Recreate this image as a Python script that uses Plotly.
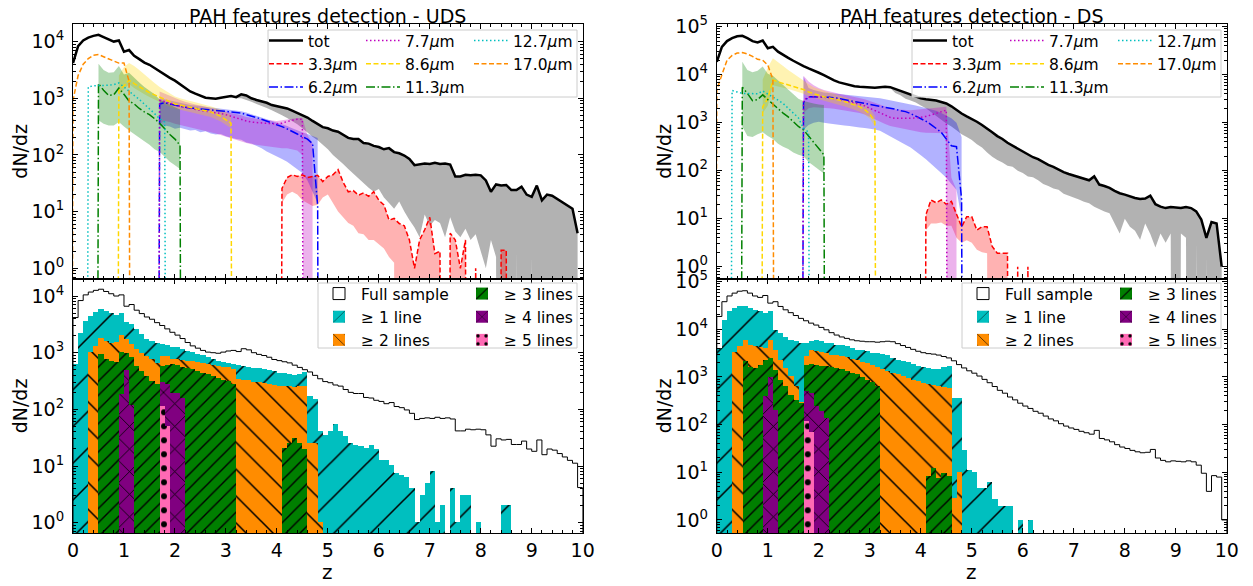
import plotly.graph_objects as go

# the page body keeps its default 8px margin, so the figure sits 8px in;
# positions below are given in page pixels and shifted by that margin
OFF = 8
W, H = 1253 - OFF, 586 - OFF
FONT = 'DejaVu Sans'
FLOOR = 1e-30   # empty bins: drawn far below the log axis so curves drop like matplotlib

# left edges of the dz = 0.1 bins
z_left = [round(0.1 * i, 1) for i in range(100)]

# all values below are log10(dN/dz), None = empty bin

# ---------------- UDS ----------------
uds_tot = [
    3.62, 3.92, 4.02, 4.07, 4.10, 4.12, 4.08, 4.04, 4.00, 4.02,
    3.82, 3.85, 3.75, 3.69, 3.63, 3.59, 3.53, 3.48, 3.42, 3.36,
    3.31, 3.25, 3.18, 3.12, 3.08, 3.04, 3.01, 3.00, 2.99, 3.01,
    3.03, 3.04, 3.02, 3.07, 3.05, 3.00, 2.97, 2.95, 2.92, 2.88,
    2.86, 2.84, 2.82, 2.78, 2.74, 2.70, 2.66, 2.60, 2.54, 2.49,
    2.47, 2.43, 2.41, 2.35, 2.30, 2.28, 2.28, 2.21, 2.20, 2.16,
    2.14, 2.10, 2.12, 2.05, 2.03, 1.99, 1.93, 1.82, 1.84, 1.85,
    1.84, 1.86, 1.84, 1.85, 1.83, 1.62, 1.62, 1.65, 1.64, 1.65,
    1.64, 1.55, 1.35, 1.48, 1.46, 1.47, 1.38, 1.38, 1.44, 1.30,
    1.26, 1.46, 1.20, 1.30, 1.28, 1.22, 1.16, 1.10, 1.05, 0.62,
]
uds_tot_lo_start = 3.2
uds_tot_lo = [
    3.00, 3.00, 2.97, 2.94, 2.90, 2.86, 2.83, 2.79,
    2.75, 2.70, 2.65, 2.60, 2.54, 2.47, 2.40, 2.32, 2.26, 2.18,
    2.10, 2.00, 1.92, 1.84, 1.75, 1.67, 1.58, 1.50, 1.42, 1.35,
    1.40, 1.25, 1.15, 1.05, 1.18, 1.00, 0.85, 0.72, 0.55, 0.95,
    0.75, 0.85, 0.80, 0.55, 0.90, 0.65, 0.55, 0.70, 0.50, 0.60,
    0.30, 0.00, 0.50, 0.20, None, 0.10, None, 0.30, None, None,
    0.20, None, None, None, None, None, None, None, None, None,
]

uds_33_start = 4.1
uds_33 = [
    1.41, 1.60, 1.65, 1.62, 1.65, 1.60, 1.62, 1.64, 1.53,
    1.62, 1.65, 1.74, 1.52, 1.35, 1.37, 1.29, 1.33, 1.27, 1.35,
    1.20, 1.12, 0.85, 0.88, 0.79, 0.75, 0.50, 0.00, 0.50, 0.68,
    0.90, 0.26, 0.30, None, 0.62, 0.50, 0.00, 0.50, None, 0.00,
    None, None, None, None, 0.32, 0.32,
]
uds_33_lo = [
    1.15, 1.30, 1.35, 1.30, 1.20, 1.15, 1.10, 1.12, 1.25,
    1.30, 1.15, 1.00, 0.90, 0.80, 0.75, 0.62, 0.60, 0.50, 0.50,
    0.42, 0.35, 0.20, 0.10, None, None, None, None, None, None,
    None, None, None, None, None, None, None, None, None, None,
    None, None, None, None, None, None,
]

uds_62_start = 1.7
uds_62 = [
    2.90, 2.92, 2.90,
    2.87, 2.85, 2.84, 2.83, 2.82, 2.81, 2.80, 2.79, 2.78, 2.78,
    2.77, 2.76, 2.75, 2.74, 2.71, 2.69, 2.66, 2.63, 2.60, 2.57,
    2.54, 2.50, 2.46, 2.42, 2.37, 2.32, 2.28, 2.20, 1.10,
]
uds_62_hi = [
    3.00, 2.98, 2.96,
    2.93, 2.91, 2.90, 2.88, 2.87, 2.86, 2.85, 2.84, 2.83, 2.82,
    2.81, 2.80, 2.79, 2.77, 2.75, 2.72, 2.70, 2.67, 2.64, 2.61,
    2.58, 2.55, 2.51, 2.47, 2.43, 2.40, 2.37, 2.33, 2.30,
]
uds_62_lo = [
    2.50, 2.52, 2.50,
    2.46, 2.48, 2.45, 2.43, 2.44, 2.40, 2.42, 2.38, 2.36, 2.37,
    2.33, 2.30, 2.28, 2.27, 2.22, 2.20, 2.16, 2.12, 2.06, 2.02,
    1.97, 1.93, 1.88, 1.82, 1.75, 1.68, 1.55, 1.35, 1.15,
]

uds_77_start = 1.7
uds_77 = [
    2.96, 2.94, 2.91,
    2.88, 2.86, 2.84, 2.82, 2.80, 2.79, 2.77, 2.76, 2.75, 2.73,
    2.71, 2.68, 2.66, 2.63, 2.60, 2.58, 2.57, 2.57, 2.56, 2.55,
    2.55, 2.56, 2.59, 2.61, 2.63, 2.63,
]
uds_77_hi = [
    3.12, 3.08, 3.04,
    3.00, 2.97, 2.94, 2.91, 2.89, 2.87, 2.85, 2.83, 2.81, 2.79,
    2.77, 2.74, 2.72, 2.70, 2.67, 2.65, 2.64, 2.63, 2.62, 2.61,
    2.60, 2.61, 2.63, 2.64, 2.65, 2.65, 2.35, 2.20,
]
uds_77_lo = [
    2.55, 2.60, 2.58,
    2.55, 2.52, 2.50, 2.48, 2.46, 2.44, 2.42, 2.40, 2.38, 2.36,
    2.33, 2.30, 2.27, 2.24, 2.21, 2.19, 2.17, 2.16, 2.15, 2.14,
    2.13, 2.12, 2.12, 2.10, 2.08, 2.00, None, None,
]

uds_86_start = 0.9
uds_86 = [3.14, 3.22, 3.32, 3.26, 3.20, 3.15, 3.10, 3.06, 3.01, 2.98, 2.94, 2.90,
          2.88, 2.86, 2.84, 2.82, 2.80, 2.78, 2.76, 2.72, 2.68, 2.62, 2.56]
uds_86_hi = [3.40, 3.55, 3.62, 3.57, 3.50, 3.42, 3.35, 3.27, 3.20, 3.14, 3.08, 3.03,
             3.00, 2.97, 2.95, 2.93, 2.90, 2.88, 2.86, 2.83, 2.80, 2.75, 2.70]
uds_86_lo = [3.05, 3.15, 3.25, 3.18, 3.12, 3.07, 3.02, 2.98, 2.93, 2.89, 2.85, 2.82,
             2.80, 2.78, 2.76, 2.73, 2.71, 2.69, 2.67, 2.63, 2.59, 2.53, 2.47]

uds_113_start = 0.5
uds_113 = [3.26, 3.14, 3.05, 3.06, 3.18, 3.07, 2.95, 2.90, 2.82, 2.76, 2.71, 2.64,
           2.56, 2.46, 2.36, 2.28, 2.17]
uds_113_hi = [3.61, 3.50, 3.45, 3.46, 3.57, 3.42, 3.45, 3.36, 3.28, 3.20, 3.14, 3.07,
              2.98, 2.93, 2.88, 2.84, 2.80]
uds_113_lo = [2.61, 2.55, 2.52, 2.52, 2.58, 2.50, 2.43, 2.36, 2.30, 2.24, 2.18, 2.10,
              2.05, 1.97, 1.88, 1.82, 1.75]

uds_127_start = 0.3
uds_127 = [3.20, 3.22, 3.22, 3.22, 3.23, 3.24, 3.27, 3.20, 3.12, 3.05, 2.98, 2.90,
           2.81, 2.73, 2.64, 2.58]

uds_170_start = 0.0
uds_170 = [2.96, 3.40, 3.60, 3.70, 3.76, 3.77, 3.73, 3.69, 3.66, 3.62, 3.62, 3.30]

# histograms (number of detected lines)
uds_ge1_start = 0.0
uds_ge1 = [
    2.79, 3.35, 3.56, 3.65, 3.72, 3.76, 3.73, 3.70, 3.66, 3.70,
    3.53, 3.50, 3.41, 3.32, 3.23, 3.20, 3.16, 3.14, 3.13, 3.09,
    3.09, 3.06, 3.03, 3.00, 2.97, 2.95, 2.91, 2.88, 2.85, 2.83,
    2.81, 2.79, 2.77, 2.76, 2.75, 2.73, 2.72, 2.70, 2.69, 2.67,
    2.64, 2.63, 2.61, 2.60, 2.61, 2.65, 2.23, 2.17, 1.61, 1.55,
    1.61, 1.73, 1.61, 1.52, 1.40, 1.37, 1.35, 1.32, 1.37, 1.29,
    1.11, 1.11, 1.02, 0.87, 0.84, 0.81, 0.61, 0.00, 0.49, 0.70,
    0.90, 0.00, 0.30, None, 0.60, 0.00, 0.49, 0.49, None, 0.00,
    None, None, None, None, 0.30, 0.30,
]
uds_ge2_start = 0.3
uds_ge2 = [
    3.00, 3.11, 3.26, 3.20, 3.17, 3.18, 3.30,
    3.23, 3.14, 3.06, 2.99, 2.94, 2.88, 2.82, 2.94, 2.93, 2.89,
    2.88, 2.87, 2.85, 2.84, 2.83, 2.82, 2.79, 2.78, 2.76, 2.75,
    2.74, 2.71, 2.53, 2.52, 2.51, 2.48, 2.47, 2.46, 2.44, 2.42,
    2.41, 2.40, 2.40, 2.39, 2.40, 2.40, 1.40, 1.40, 0.00,
]
uds_ge3_start = 0.5
uds_ge3 = [
    2.97, 2.88, 2.85, 2.83, 3.01,
    2.99, 2.91, 2.76, 2.67, 2.58, 2.50, 2.44, 2.76, 2.77, 2.79,
    2.77, 2.75, 2.73, 2.71, 2.67, 2.64, 2.61, 2.58, 2.55, 2.52,
    2.49, 2.44, None, None, None, None, None, None, None, None,
    None, 1.32, 1.40, 1.49, 1.40, 1.29,
]
uds_ge4_start = 0.9
uds_ge4 = [2.26, 2.69, 2.08, None, None, None, None, None, 2.47, 2.44, 2.29, 2.29, 2.20]
uds_ge5_start = 1.7
uds_ge5 = [2.05, 1.70]

# ---------------- DS ----------------
ds_tot = [
    4.27, 4.58, 4.70, 4.76, 4.80, 4.81, 4.76, 4.70, 4.67, 4.71,
    4.55, 4.58, 4.48, 4.41, 4.35, 4.29, 4.23, 4.18, 4.13, 4.09,
    4.04, 3.99, 3.93, 3.88, 3.84, 3.81, 3.78, 3.76, 3.75, 3.74,
    3.74, 3.73, 3.74, 3.75, 3.74, 3.70, 3.66, 3.62, 3.58, 3.54,
    3.51, 3.49, 3.48, 3.46, 3.43, 3.40, 3.34, 3.26, 3.19, 3.13,
    3.08, 3.02, 2.95, 2.88, 2.80, 2.72, 2.66, 2.58, 2.52, 2.45,
    2.39, 2.34, 2.28, 2.24, 2.18, 2.12, 2.08, 2.02, 1.97, 1.93,
    1.90, 1.86, 1.83, 1.80, 1.88, 1.71, 1.68, 1.64, 1.58, 1.53,
    1.50, 1.46, 1.43, 1.41, 1.42, 1.48, 1.30, 1.25, 1.22, 1.24,
    1.23, 1.22, 1.24, 1.22, 1.15, 0.98, 0.60, 0.93, 0.90, 0.00,
]
ds_tot_lo_start = 3.4
ds_tot_lo = [
    3.72, 3.62, 3.57, 3.50, 3.46, 3.42,
    3.36, 3.30, 3.22, 3.15, 3.06, 2.98, 2.92, 2.84, 2.76, 2.70,
    2.64, 2.55, 2.48, 2.38, 2.29, 2.22, 2.17, 2.10, 2.08, 2.00,
    1.95, 1.88, 1.86, 1.80, 1.72, 1.68, 1.63, 1.60, 1.52, 1.49,
    1.44, 1.40, 1.35, 1.32, 1.25, 1.20, 1.15, 1.11, 0.90, 0.69,
    1.00, 0.83, 0.75, 0.56, 0.90, 0.68, 0.40, 0.69, 0.50, 0.69,
    None, 0.69, 0.60, None, 0.50, None, 0.20, None, None, None,
]

ds_33_start = 4.1
ds_33 = [1.08, 1.39, 1.33, 1.39, 1.30, 1.36, 1.11, 0.83, 1.04,
         1.04, 0.76, 0.83, 0.83, 0.42, 0.28, 0.28, 0.28, None, 0.00,
         None, 0.00]
ds_33_lo = [0.76, 0.90, 0.90, 0.92, 0.85, 0.85, 0.60, 0.50, 0.55,
            0.50, 0.35, 0.30, 0.28, None, None, None, None, None, None,
            None, None]

ds_62_start = 1.7
ds_62 = [
    3.42, 3.54, 3.54,
    3.54, 3.54, 3.53, 3.52, 3.50, 3.48, 3.47, 3.45, 3.43, 3.41,
    3.39, 3.37, 3.35, 3.33, 3.30, 3.28, 3.25, 3.23, 3.19, 3.14,
    3.09, 3.03, 2.96, 2.88, 2.80, 2.66, 2.52, 2.50, 1.40,
]
ds_62_hi = [
    3.96, 3.72, 3.68,
    3.65, 3.63, 3.62, 3.61, 3.60, 3.59, 3.58, 3.57, 3.56, 3.55,
    3.54, 3.53, 3.51, 3.49, 3.47, 3.45, 3.43, 3.41, 3.38, 3.36,
    3.33, 3.30, 3.27, 3.25, 3.20, 3.15, 3.09, 3.00, 2.70,
]
ds_62_lo = [
    2.85, 2.95, 3.00,
    3.02, 3.00, 2.98, 2.96, 2.95, 2.94, 2.93, 2.92, 2.90, 2.89,
    2.88, 2.86, 2.83, 2.78, 2.72, 2.66, 2.60, 2.54, 2.48, 2.40,
    2.32, 2.24, 2.15, 2.05, 1.95, 1.85, 1.72, 1.60, 1.00,
]

ds_77_start = 1.7
ds_77 = [
    3.47, 3.53, 3.54,
    3.54, 3.53, 3.52, 3.50, 3.48, 3.46, 3.43, 3.41, 3.38, 3.35,
    3.30, 3.25, 3.20, 3.15, 3.11, 3.09, 3.09, 3.08, 3.09, 3.10,
    3.11, 3.13, 3.16, 3.19, 3.22, 3.26,
]
ds_77_hi = [
    3.98, 3.86, 3.78,
    3.72, 3.68, 3.65, 3.62, 3.60, 3.58, 3.56, 3.54, 3.52, 3.49,
    3.45, 3.41, 3.37, 3.33, 3.30, 3.28, 3.27, 3.26, 3.26, 3.27,
    3.28, 3.29, 3.30, 3.31, 3.32, 3.33, 1.85, 1.60,
]
ds_77_lo = [
    3.20, 3.30, 3.32,
    3.32, 3.31, 3.30, 3.29, 3.28, 3.26, 3.24, 3.22, 3.20, 3.17,
    3.13, 3.07, 3.02, 2.97, 2.93, 2.90, 2.88, 2.86, 2.84, 2.82,
    2.80, 2.79, 2.78, 2.78, 2.78, 2.78, None, None,
]

ds_86_start = 0.9
ds_86 = [3.33, 3.50, 3.89, 3.85, 3.82, 3.79, 3.76, 3.73, 3.69, 3.64, 3.60, 3.57,
         3.54, 3.52, 3.50, 3.47, 3.44, 3.41, 3.37, 3.33, 3.27, 3.18, 3.02]
ds_86_hi = [3.90, 4.15, 4.34, 4.25, 4.18, 4.10, 4.03, 3.96, 3.88, 3.80, 3.74, 3.70,
            3.66, 3.63, 3.60, 3.57, 3.54, 3.50, 3.46, 3.42, 3.37, 3.29, 3.14]
ds_86_lo = [3.20, 3.35, 3.78, 3.76, 3.73, 3.70, 3.67, 3.64, 3.60, 3.55, 3.51, 3.48,
            3.45, 3.43, 3.40, 3.37, 3.34, 3.31, 3.27, 3.23, 3.17, 3.08, 2.92]

ds_113_start = 0.5
ds_113 = [3.74, 3.61, 3.46, 3.48, 3.58, 3.48, 3.38, 3.30, 3.20, 3.12, 3.02, 2.92,
          2.85, 2.72, 2.60, 2.46, 2.33]
ds_113_hi = [4.27, 4.10, 4.05, 4.08, 4.17, 4.02, 3.98, 3.88, 3.78, 3.68, 3.58, 3.50,
             3.45, 3.42, 3.40, 3.38, 3.37]
ds_113_lo = [2.92, 2.72, 2.70, 2.76, 2.80, 2.72, 2.66, 2.56, 2.50, 2.45, 2.38, 2.33,
             2.30, 2.18, 2.10, 2.02, 1.94]

ds_127_start = 0.3
ds_127 = [3.67, 3.64, 3.61, 3.61, 3.60, 3.60, 3.66, 3.60, 3.54, 3.47, 3.40, 3.30,
          3.22, 3.10, 2.88, 2.80]

ds_170_start = 0.0
ds_170 = [3.68, 4.00, 4.30, 4.40, 4.45, 4.46, 4.43, 4.38, 4.32, 4.30, 4.20, 3.90]

ds_ge1_start = 0.0
ds_ge1 = [
    3.60, 4.20, 4.37, 4.44, 4.49, 4.48, 4.45, 4.41, 4.37, 4.34,
    4.37, 3.99, 3.92, 3.83, 3.78, 3.74, 3.71, 3.71, 3.74, 3.76,
    3.74, 3.71, 3.70, 3.67, 3.66, 3.64, 3.61, 3.57, 3.56, 3.54,
    3.50, 3.49, 3.47, 3.45, 3.39, 3.36, 3.32, 3.30, 3.27, 3.23,
    3.20, 3.18, 3.16, 3.16, 3.20, 3.23, 2.55, 2.55, 1.47, 1.05,
    1.01, 0.66, 0.66, 0.80, 0.43, 0.28, 0.28, 0.28, None, 0.00,
    None, 0.00,
]
ds_ge2_start = 0.3
ds_ge2 = [
    3.51, 3.64, 3.78, 3.67, 3.65, 3.63, 3.60,
    3.78, 3.57, 3.36, 3.18, 3.01, 2.80, 2.46, 3.43, 3.55, 3.54,
    3.52, 3.50, 3.46, 3.45, 3.43, 3.41, 3.37, 3.34, 3.31, 3.28,
    3.24, 3.20, 3.16, 3.13, 3.08, 3.05, 3.01, 2.98, 2.94, 2.90,
    2.87, 2.84, 2.82, 2.80, 2.79, 2.76, 0.45, 1.00,
]
ds_ge3_start = 0.5
ds_ge3 = [
    3.32, 3.20, 3.18, 3.25, 3.36,
    3.39, 3.15, 2.94, 2.80, 2.62, 2.52, 2.45, 3.25, 3.27, 3.25,
    3.23, 3.22, 3.21, 3.19, 3.17, 3.13, 3.08, 3.05, 3.00, 2.94,
    2.89, 2.81, None, None, None, None, None, None, None, None,
    None, 0.91, 1.08, 0.87, 0.98, 0.91,
]
ds_ge4_start = 0.9
ds_ge4 = [2.59, 3.00, 2.31, None, None, None, None, None, 2.69, 2.66, 2.38, 2.27, 2.13]
ds_ge5_start = 1.7
ds_ge5 = [2.06, 1.85]


def lin(vals):
    return [FLOOR if v is None else 10 ** v for v in vals]


def grid(start, n):
    return [round(start + 0.1 * i, 1) for i in range(n)]


def fx(px):
    return (px - OFF) / W


def fy(py):
    return 1 - (py - OFF) / H


fig = go.Figure()


def add_band(xa, ya, start, lo, hi, color):
    x = grid(start, len(lo))
    fig.add_trace(go.Scatter(x=x + x[::-1], y=lin(hi) + lin(lo)[::-1], mode='lines',
                             fill='toself', fillcolor=color, line=dict(width=0),
                             hoverinfo='skip', showlegend=False, xaxis=xa, yaxis=ya))


def add_line(xa, ya, start, vals, name, color, dash, legend, pad=True, width=1.5):
    if pad:
        x = grid(round(start - 0.1, 1), len(vals) + 2)
        y = [FLOOR] + lin(vals) + [FLOOR]
    else:
        x = grid(start, len(vals))
        y = lin(vals)
    fig.add_trace(go.Scatter(x=x, y=y, mode='lines', name=name,
                             line=dict(color=color, width=width, dash=dash),
                             legend=legend, xaxis=xa, yaxis=ya))


def add_hist(xa, ya, start, vals, name, color, shape, size, solidity, legend):
    x = [round(start + 0.1 * i + 0.05, 2) for i in range(len(vals))]
    y = [None if v is None else 10 ** v for v in vals]
    fig.add_trace(go.Bar(x=x, y=y, width=0.1, name=name, legend=legend, xaxis=xa, yaxis=ya,
                         marker=dict(color=color, line=dict(width=0),
                                     pattern=dict(shape=shape, size=size, solidity=solidity,
                                                  fgcolor='black', fgopacity=1,
                                                  fillmode='overlay'))))


def add_step(xa, ya, vals, legend):
    x = [0.0] + z_left + [10.0]
    y = [FLOOR] + lin(vals) + [FLOOR]
    fig.add_trace(go.Scatter(x=x, y=y, mode='lines', line=dict(color='black', width=1, shape='hv'),
                             showlegend=False, xaxis=xa, yaxis=ya))
    fig.add_trace(go.Bar(x=[None], y=[None], name='Full sample', legend=legend,
                         marker=dict(color='white', line=dict(color='black', width=1)),
                         xaxis=xa, yaxis=ya))


DASHED = '5px,2.5px'
DOTTED = '1.5px,2.5px'
DASHDOT = '9px,2.5px,1.5px,2.5px'
MU = '<i>μ</i>m'

panels = [
    ('x', 'y', 'x2', 'y2', ['legend', 'legend2', 'legend3', 'legend4', 'legend5'],
     uds_tot, uds_tot_lo_start, uds_tot_lo,
     (uds_33_start, uds_33, uds_33_lo), (uds_62_start, uds_62, uds_62_lo, uds_62_hi),
     (uds_77_start, uds_77, uds_77_lo, uds_77_hi), (uds_86_start, uds_86, uds_86_lo, uds_86_hi),
     (uds_113_start, uds_113, uds_113_lo, uds_113_hi), (uds_127_start, uds_127),
     (uds_170_start, uds_170),
     [(uds_ge1_start, uds_ge1), (uds_ge2_start, uds_ge2), (uds_ge3_start, uds_ge3),
      (uds_ge4_start, uds_ge4), (uds_ge5_start, uds_ge5)]),
    ('x3', 'y3', 'x4', 'y4', ['legend6', 'legend7', 'legend8', 'legend9', 'legend10'],
     ds_tot, ds_tot_lo_start, ds_tot_lo,
     (ds_33_start, ds_33, ds_33_lo), (ds_62_start, ds_62, ds_62_lo, ds_62_hi),
     (ds_77_start, ds_77, ds_77_lo, ds_77_hi), (ds_86_start, ds_86, ds_86_lo, ds_86_hi),
     (ds_113_start, ds_113, ds_113_lo, ds_113_hi), (ds_127_start, ds_127),
     (ds_170_start, ds_170),
     [(ds_ge1_start, ds_ge1), (ds_ge2_start, ds_ge2), (ds_ge3_start, ds_ge3),
      (ds_ge4_start, ds_ge4), (ds_ge5_start, ds_ge5)]),
]

hist_style = [
    ('≥ 1 line', '#00BFBF', '/', 26, 0.06),
    ('≥ 2 lines', '#FF8C00', '\\', 19, 0.08),
    ('≥ 3 lines', '#007F00', '/', 10, 0.14),
    ('≥ 4 lines', '#800080', 'x', 16, 0.1),
    ('≥ 5 lines', '#FF69B4', '.', 14, 0.14),
]

for (xt, yt, xb, yb, lg, tot, tot_lo_start, tot_lo, f33, f62, f77, f86, f113, f127, f170,
     hists) in panels:
    n_skip = int(round(tot_lo_start * 10))
    add_band(xt, yt, tot_lo_start, tot_lo, tot[n_skip:], 'rgba(0,0,0,0.3)')
    add_band(xt, yt, f33[0], f33[2], f33[1], 'rgba(255,0,0,0.3)')
    add_band(xt, yt, f62[0], f62[2], f62[3], 'rgba(0,0,255,0.3)')
    add_band(xt, yt, f77[0], f77[2], f77[3], 'rgba(191,0,191,0.3)')
    add_band(xt, yt, f86[0], f86[2], f86[3], 'rgba(255,215,0,0.3)')
    add_band(xt, yt, f113[0], f113[2], f113[3], 'rgba(0,128,0,0.3)')

    add_line(xt, yt, 0.0, tot, 'tot', 'black', 'solid', lg[0], pad=False, width=2.5)
    add_line(xt, yt, f33[0], f33[1], '3.3' + MU, '#FF0000', DASHED, lg[0])
    add_line(xt, yt, f62[0], f62[1], '6.2' + MU, '#0000FF', DASHDOT, lg[0])
    add_line(xt, yt, f77[0], f77[1], '7.7' + MU, '#BF00BF', DOTTED, lg[1])
    add_line(xt, yt, f86[0], f86[1], '8.6' + MU, '#FFD700', DASHED, lg[1])
    add_line(xt, yt, f113[0], f113[1], '11.3' + MU, '#008000', DASHDOT, lg[1])
    add_line(xt, yt, f127[0], f127[1], '12.7' + MU, '#00BFBF', DOTTED, lg[2])
    add_line(xt, yt, f170[0], f170[1], '17.0' + MU, '#FF8C00', DASHED, lg[2])

    add_step(xb, yb, tot, lg[3])
    for k, ((start, vals), (name, col, shape, size, sol)) in enumerate(zip(hists, hist_style)):
        add_hist(xb, yb, start, vals, name, col, shape, size, sol, lg[3] if k < 2 else lg[4])

# panel edges in page pixels
LX0, LX1 = 73.0, 582.7
RX0, RX1 = 716.8, 1226.8
TY0, MID, BY1 = 24.0, 279.3, 533.3

left_dom = [fx(LX0), fx(LX1)]
right_dom = [fx(RX0), fx(RX1)]
top_dom = [fy(MID), fy(TY0)]
bot_dom = [fy(BY1), fy(MID)]
minor_vals = [k * 10 ** d for d in range(-1, 6) for k in range(2, 10)]


def xaxis(dom, anchor, labels):
    return dict(domain=dom, anchor=anchor, range=[0, 10], tick0=0, dtick=1,
                ticks='inside', ticklen=5, tickcolor='black', showline=True,
                linecolor='black', linewidth=1, mirror='allticks', showgrid=False,
                zeroline=False, showticklabels=labels, automargin=False,
                tickfont=dict(family=FONT, size=19, color='black'),
                minor=dict(dtick=0.2, ticks='inside', ticklen=3, tickcolor='black',
                           showgrid=False))


def yaxis(dom, anchor, rng, top_exp):
    return dict(domain=dom, anchor=anchor, type='log', range=rng,
                tickvals=[10 ** k for k in range(top_exp + 1)],
                ticktext=['10<sup>%d</sup>' % k for k in range(top_exp + 1)],
                ticks='inside', ticklen=5, tickcolor='black', showline=True,
                linecolor='black', linewidth=1, mirror='allticks', showgrid=False,
                zeroline=False, ticklabelstandoff=4, automargin=False,
                tickfont=dict(family=FONT, size=19, color='black'),
                minor=dict(tickvals=minor_vals, ticks='inside', ticklen=3,
                           tickcolor='black', showgrid=False))


def legend_at(px, py):
    return dict(x=fx(px), y=fy(py), xanchor='left', yanchor='top',
                bgcolor='rgba(0,0,0,0)', borderwidth=0, itemwidth=34,
                font=dict(family=FONT, size=15.5, color='black'))


def box(x0, y0, x1, y1):
    return dict(type='rect', xref='paper', yref='paper', layer='above',
                x0=fx(x0), x1=fx(x1), y0=fy(y1), y1=fy(y0),
                fillcolor='rgba(255,255,255,0.8)', line=dict(color='#cccccc', width=1))


def text(s, px, py, size, angle=0):
    return dict(text=s, xref='paper', yref='paper', x=fx(px), y=fy(py),
                showarrow=False, textangle=angle, xanchor='center', yanchor='middle',
                font=dict(family=FONT, size=size, color='black'))


fig.update_layout(
    template='none',
    width=W, height=H, autosize=False,
    margin=dict(l=0, r=0, t=0, b=0, pad=0),
    paper_bgcolor='white', plot_bgcolor='white',
    barmode='overlay', bargap=0,
    font=dict(family=FONT, color='black'),
    xaxis=xaxis(left_dom, 'y', False),
    yaxis=yaxis(top_dom, 'x', [-0.194, 4.31], 4),
    xaxis2=xaxis(left_dom, 'y2', True),
    yaxis2=yaxis(bot_dom, 'x2', [-0.187, 4.295], 4),
    xaxis3=xaxis(right_dom, 'y3', False),
    yaxis3=yaxis(top_dom, 'x3', [-0.264, 5.056], 5),
    xaxis4=xaxis(right_dom, 'y4', True),
    yaxis4=yaxis(bot_dom, 'x4', [-0.28, 5.05], 5),
    legend=legend_at(264, 24),
    legend2=legend_at(361, 24),
    legend3=legend_at(469, 24),
    legend4=legend_at(317, 277),
    legend5=legend_at(460, 277),
    legend6=legend_at(908, 24),
    legend7=legend_at(1005, 24),
    legend8=legend_at(1113, 24),
    legend9=legend_at(961, 277),
    legend10=legend_at(1104, 277),
    shapes=[box(268, 30, 577, 97), box(318, 283, 577, 348),
            box(912, 30, 1221, 97), box(962, 283, 1221, 348)],
    annotations=[
        text('PAH features detection - UDS', (LX0 + LX1) / 2, 15.5, 19),
        text('PAH features detection - DS', (RX0 + RX1) / 2, 15.5, 19),
        text('dN/dz', 20, (TY0 + MID) / 2, 19, -90),
        text('dN/dz', 20, (MID + BY1) / 2, 19, -90),
        text('dN/dz', 664, (TY0 + MID) / 2, 19, -90),
        text('dN/dz', 664, (MID + BY1) / 2, 19, -90),
        text('z', (LX0 + LX1) / 2, 572, 20),
        text('z', (RX0 + RX1) / 2, 572, 20),
    ],
)

fig.write_html("out.html")
